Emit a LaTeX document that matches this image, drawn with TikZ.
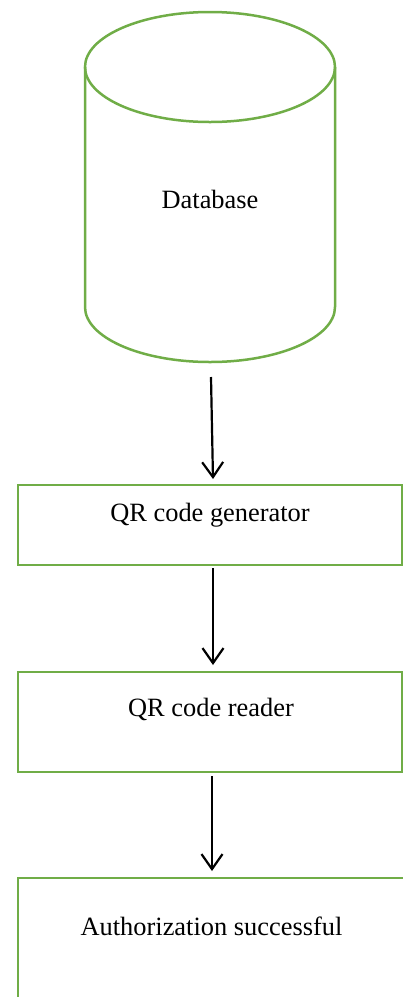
\documentclass[tikz,border=0pt]{standalone}
\usepackage{fontspec}
\setmainfont{Liberation Serif}
\usetikzlibrary{arrows.meta}
\definecolor{boxgreen}{HTML}{70AD47}
\tikzset{
  greenline/.style={draw=boxgreen, line width=2.5pt},
  lbl/.style={font=\fontsize{26.4}{30}\selectfont, text=black, inner sep=0pt},
  flow/.style={draw=black, line width=2.2pt, -{Straight Barb[length=15pt, width=21pt, line width=2.2pt]}},
}
\begin{document}
\begin{tikzpicture}[x=1pt, y=1pt]
\clip (0,0) rectangle (403,-997);
\useasboundingbox (0,0) rectangle (403,-997);
% cylinder
\draw[greenline] (85,-67) -- (85,-307) arc[start angle=180, end angle=360, x radius=125, y radius=55] -- (335,-67);
\draw[greenline] (210,-67) ellipse [x radius=125, y radius=55];
\node[lbl] (db) at (210,-199) {Database};
% boxes
\draw[greenline] (18,-485) rectangle (402,-565);
\node[lbl] (gen) at (210,-515) {QR code generator};
\draw[greenline] (18,-672) rectangle (402,-772);
\node[lbl] (rdr) at (211,-709) {QR code reader};
\draw[greenline] (18,-1020) -- (18,-878) -- (430,-878);
\node[lbl] (auth) at (211.5,-926) {Authorization successful};
% arrow end points
\coordinate (a1s) at (211,-377);
\coordinate (a1e) at (213,-479);
\coordinate (a2s) at (213,-568);
\coordinate (a2e) at (213,-665);
\coordinate (a3s) at (212,-776);
\coordinate (a3e) at (212,-871);
\draw[flow] (a1s) -- (a1e);
\draw[flow] (a2s) -- (a2e);
\draw[flow] (a3s) -- (a3e);
\end{tikzpicture}
\end{document}
